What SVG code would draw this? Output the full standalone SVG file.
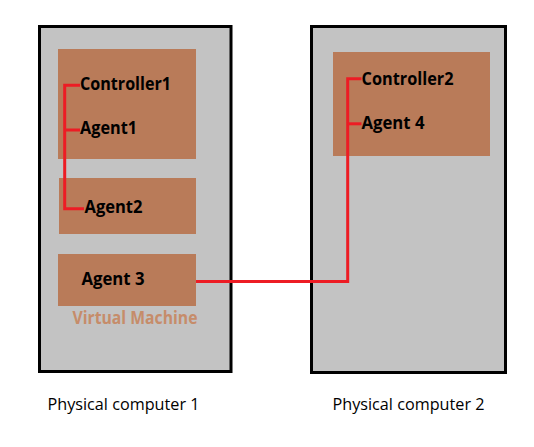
<svg xmlns="http://www.w3.org/2000/svg" width="534" height="447" viewBox="0 0 534 447">
<style>
.pc{fill:#c3c3c3;stroke:#000;stroke-width:3}
.vm{fill:#b97b59}
.lbl{font-family:"Open Sans","Noto Sans",sans-serif;font-weight:bold;font-size:17px;fill:#000}
.cap{font-family:"Open Sans","Noto Sans",sans-serif;font-size:16.5px;fill:#000}
.vmt{font-family:"Open Sans","Noto Sans",sans-serif;font-weight:bold;font-size:17px;fill:#c68c6a}
.wire{fill:none;stroke:#ed1c24;stroke-width:3}
</style>
<rect width="534" height="447" fill="#fff"/>
<g id="pc1">
<rect class="pc" x="39.5" y="26.5" width="191.5" height="345"/>
<text class="cap" x="47.5" y="409.5" textLength="152" lengthAdjust="spacingAndGlyphs">Physical computer 1</text>
</g>
<g id="pc2">
<rect class="pc" x="311.5" y="26.5" width="194" height="346"/>
<text class="cap" x="332.5" y="409.5" textLength="152" lengthAdjust="spacingAndGlyphs">Physical computer 2</text>
</g>
<g id="vm1">
<rect class="vm" x="58" y="49" width="138" height="110"/>
<text class="lbl" x="80" y="90" textLength="91" lengthAdjust="spacingAndGlyphs">Controller1</text>
<text class="lbl" x="80" y="134" textLength="57" lengthAdjust="spacingAndGlyphs">Agent1</text>
</g>
<g id="vm2">
<rect class="vm" x="59" y="178" width="137" height="56"/>
<text class="lbl" x="84.5" y="212.5" textLength="58" lengthAdjust="spacingAndGlyphs">Agent2</text>
</g>
<g id="vm3">
<rect class="vm" x="58" y="254" width="138" height="52"/>
<text class="lbl" x="81.5" y="285" textLength="63" lengthAdjust="spacingAndGlyphs">Agent 3</text>
<text class="vmt" x="72.5" y="324" textLength="125" lengthAdjust="spacingAndGlyphs">Virtual Machine</text>
</g>
<g id="vm4">
<rect class="vm" x="333" y="52" width="157" height="104"/>
<text class="lbl" x="361.5" y="84.5" textLength="92" lengthAdjust="spacingAndGlyphs">Controller2</text>
<text class="lbl" x="361.5" y="128.5" textLength="63" lengthAdjust="spacingAndGlyphs">Agent 4</text>
</g>
<g id="connectors">
<polyline class="wire" points="80,85.3 64.7,85.3 64.7,208.8 84,208.8"/>
<line class="wire" x1="64.7" y1="130" x2="80" y2="130"/>
<polyline class="wire" points="196,281.5 347.7,281.5 347.7,78.7 361.5,78.7"/>
<line class="wire" x1="347.7" y1="123.8" x2="361.5" y2="123.8"/>
</g>
</svg>
